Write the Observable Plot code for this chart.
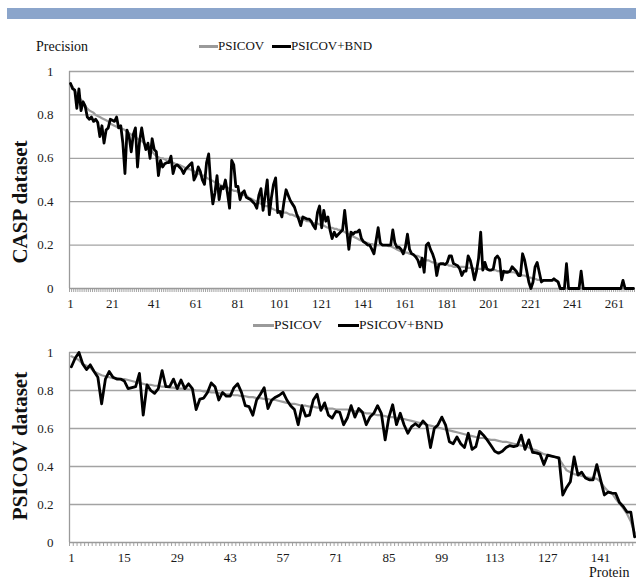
<!DOCTYPE html>
<html>
<head>
<meta charset="utf-8">
<script src="https://cdn.jsdelivr.net/npm/d3@7"></script>
<script src="https://cdn.jsdelivr.net/npm/@observablehq/plot@0.6"></script>
<style>
  body { margin: 0; background: #fff; }
  #root { position: relative; width: 636px; height: 580px; overflow: hidden; background: #fff; font-family: "Liberation Serif", "Times New Roman", serif; color: #111; }
  .abs { position: absolute; white-space: nowrap; }
  .lg { font-size: 13px; line-height: 16px; }
  .sw { position: absolute; }
  .ytitle { position: absolute; font-weight: bold; font-size: 21px; white-space: nowrap; transform: translate(-50%, -50%) rotate(-90deg); }
</style>
</head>
<body>
<div id="root">
  <div class="abs" style="left:7px;top:8px;width:629px;height:11px;background:#8ba5cb;"></div>
  <div class="abs" style="left:36px;top:38px;font-size:14px;line-height:18px;">Precision</div>
  <div class="sw" style="left:199px;top:45px;width:19px;height:2.5px;background:#9a9a9a;"></div>
  <div class="abs lg" style="left:218px;top:38px;">PSICOV</div>
  <div class="sw" style="left:272px;top:45px;width:19px;height:3px;background:#000;"></div>
  <div class="abs lg" style="left:291px;top:38px;">PSICOV+BND</div>
  <div id="p1" class="abs" style="left:0;top:60px;"></div>
  <div class="sw" style="left:253px;top:324px;width:21px;height:2.5px;background:#9a9a9a;"></div>
  <div class="abs lg" style="left:274px;top:317px;font-size:13.5px;">PSICOV</div>
  <div class="sw" style="left:338px;top:324px;width:21px;height:3px;background:#000;"></div>
  <div class="abs lg" style="left:359px;top:317px;font-size:13.5px;">PSICOV+BND</div>
  <div id="p2" class="abs" style="left:0;top:340px;"></div>
  <div class="ytitle" style="left:20px;top:202px;">CASP dataset</div>
  <div class="ytitle" style="left:20px;top:446px;">PSICOV dataset</div>
  <div class="abs" style="left:589px;top:565px;font-size:14px;line-height:15px;">Protein</div>
</div>
<script>
// ---- Data ----
const yTicks = [0, 0.2, 0.4, 0.6, 0.8, 1];
const caspXTicks = [1, 21, 41, 61, 81, 101, 121, 141, 161, 181, 201, 221, 241, 261];
const psicovXTicks = [1, 15, 29, 43, 57, 71, 85, 99, 113, 127, 141];

// CASP dataset (270 proteins)
const caspPsicov = [
0.94,0.93,0.91,0.90,0.88,0.87,0.86,0.84,0.83,0.82,
0.815,0.81,0.80,0.795,0.79,0.785,0.78,0.775,0.77,0.76,
0.755,0.75,0.745,0.74,0.74,0.735,0.73,0.72,0.715,0.71,
0.705,0.70,0.69,0.685,0.68,0.67,0.66,0.65,0.64,0.63,
0.62,0.61,0.605,0.60,0.60,0.595,0.59,0.585,0.58,0.58,
0.575,0.57,0.57,0.565,0.56,0.555,0.55,0.55,0.545,0.54,
0.535,0.53,0.525,0.52,0.52,0.51,0.505,0.50,0.495,0.49,
0.485,0.48,0.475,0.47,0.47,0.465,0.46,0.455,0.45,0.45,
0.445,0.44,0.435,0.43,0.43,0.42,0.415,0.41,0.405,0.40,
0.395,0.39,0.385,0.38,0.38,0.375,0.37,0.365,0.36,0.36,
0.355,0.355,0.35,0.35,0.345,0.34,0.34,0.335,0.33,0.33,
0.325,0.32,0.315,0.31,0.31,0.305,0.30,0.30,0.30,0.295,
0.29,0.29,0.285,0.28,0.28,0.28,0.275,0.275,0.27,0.27,
0.265,0.26,0.255,0.25,0.245,0.24,0.235,0.23,0.225,0.22,
0.215,0.21,0.21,0.205,0.205,0.20,0.20,0.20,0.20,0.20,
0.20,0.20,0.195,0.195,0.19,0.185,0.18,0.175,0.17,0.17,
0.165,0.165,0.16,0.16,0.155,0.15,0.15,0.145,0.14,0.135,
0.13,0.13,0.125,0.12,0.12,0.115,0.115,0.11,0.11,0.11,
0.11,0.105,0.105,0.10,0.10,0.10,0.10,0.10,0.10,0.095,
0.095,0.095,0.095,0.09,0.09,0.09,0.09,0.09,0.09,0.09,
0.085,0.085,0.085,0.085,0.08,0.08,0.08,0.08,0.08,0.08,
0.075,0.075,0.075,0.07,0.07,0.065,0.06,0.06,0.055,0.05,
0.05,0.045,0.045,0.04,0.04,0.04,0.037,0.037,0.037,0.037,
0.037,0.037,0.035,0.03,0,0,0,0,0,0,
0,0,0,0,0,0,0,0,0,0,
0,0,0,0,0,0,0,0,0,0,
0,0,0,0,0,0,0,0,0,0
];
const caspBnd = [
0.945,0.92,0.915,0.83,0.92,0.82,0.86,0.84,0.79,0.78,
0.79,0.77,0.78,0.765,0.70,0.75,0.67,0.73,0.74,0.78,
0.775,0.77,0.79,0.74,0.75,0.67,0.53,0.73,0.70,0.63,
0.71,0.74,0.56,0.68,0.74,0.68,0.64,0.67,0.60,0.69,
0.64,0.63,0.52,0.59,0.56,0.575,0.58,0.58,0.61,0.53,
0.565,0.57,0.56,0.55,0.53,0.55,0.56,0.57,0.58,0.50,
0.52,0.56,0.54,0.50,0.48,0.58,0.62,0.48,0.39,0.44,
0.52,0.41,0.47,0.46,0.50,0.44,0.37,0.59,0.57,0.47,
0.47,0.41,0.44,0.45,0.42,0.415,0.41,0.40,0.39,0.37,
0.43,0.46,0.36,0.43,0.50,0.34,0.42,0.48,0.51,0.35,
0.355,0.33,0.40,0.455,0.43,0.405,0.39,0.375,0.345,0.32,
0.29,0.33,0.325,0.32,0.32,0.31,0.29,0.275,0.35,0.38,
0.28,0.36,0.31,0.33,0.27,0.23,0.26,0.24,0.25,0.26,
0.27,0.36,0.27,0.18,0.26,0.25,0.26,0.26,0.27,0.23,
0.215,0.21,0.20,0.20,0.18,0.16,0.22,0.28,0.21,0.20,
0.20,0.20,0.20,0.20,0.27,0.21,0.19,0.19,0.18,0.16,
0.19,0.25,0.18,0.16,0.155,0.145,0.13,0.10,0.14,0.075,
0.20,0.21,0.18,0.16,0.13,0.06,0.11,0.115,0.115,0.11,
0.12,0.15,0.15,0.115,0.11,0.105,0.09,0.06,0.08,0.08,
0.15,0.13,0.09,0.04,0.08,0.14,0.26,0.085,0.12,0.09,
0.085,0.085,0.09,0.14,0.15,0.135,0.04,0.08,0.075,0.075,
0.08,0.10,0.09,0.08,0.06,0.06,0.16,0.13,0.08,0.03,
0,0.03,0.10,0.12,0.075,0.03,0.037,0.037,0.037,0.037,
0.037,0.045,0.037,0.03,0,0,0,0.114,0,0,
0,0,0,0,0.08,0,0,0,0,0,
0,0,0,0,0,0,0,0,0,0,
0,0,0,0,0.037,0,0,0,0,0
];

// PSICOV dataset (150 proteins)
const psicovPsicov = [
0.98,0.97,0.96,0.94,0.93,0.92,0.90,0.89,0.88,0.875,
0.87,0.865,0.865,0.86,0.86,0.855,0.85,0.845,0.84,0.835,
0.83,0.83,0.825,0.825,0.82,0.82,0.815,0.815,0.81,0.81,
0.81,0.805,0.805,0.80,0.80,0.795,0.795,0.79,0.79,0.785,
0.785,0.78,0.78,0.775,0.775,0.77,0.77,0.765,0.765,0.76,
0.76,0.755,0.755,0.75,0.75,0.745,0.74,0.735,0.73,0.73,
0.725,0.72,0.72,0.715,0.715,0.71,0.71,0.705,0.705,0.705,
0.70,0.70,0.70,0.70,0.695,0.69,0.69,0.685,0.68,0.68,
0.675,0.67,0.67,0.665,0.66,0.66,0.655,0.65,0.65,0.645,
0.64,0.635,0.63,0.625,0.62,0.615,0.61,0.605,0.60,0.595,
0.59,0.585,0.58,0.575,0.57,0.565,0.56,0.555,0.55,0.55,
0.545,0.54,0.54,0.535,0.53,0.53,0.525,0.52,0.515,0.51,
0.505,0.50,0.49,0.485,0.475,0.465,0.46,0.455,0.45,0.44,
0.41,0.38,0.37,0.36,0.355,0.35,0.345,0.34,0.34,0.335,
0.32,0.29,0.27,0.26,0.23,0.205,0.18,0.15,0.11,0.05
];
const psicovBnd = [
0.925,0.97,1.0,0.94,0.91,0.935,0.90,0.87,0.73,0.86,
0.90,0.87,0.86,0.86,0.85,0.81,0.815,0.82,0.89,0.67,
0.83,0.80,0.785,0.81,0.905,0.82,0.82,0.86,0.81,0.855,
0.81,0.835,0.81,0.70,0.755,0.76,0.79,0.84,0.82,0.75,
0.79,0.77,0.77,0.815,0.835,0.79,0.72,0.715,0.67,0.75,
0.78,0.815,0.705,0.75,0.765,0.775,0.79,0.75,0.72,0.70,
0.62,0.72,0.665,0.67,0.75,0.78,0.695,0.735,0.67,0.655,
0.69,0.685,0.62,0.655,0.72,0.66,0.705,0.685,0.62,0.66,
0.68,0.72,0.68,0.54,0.66,0.725,0.62,0.68,0.62,0.575,
0.61,0.625,0.61,0.64,0.618,0.50,0.60,0.62,0.66,0.618,
0.53,0.52,0.555,0.52,0.50,0.575,0.49,0.505,0.585,0.565,
0.54,0.51,0.48,0.47,0.48,0.50,0.51,0.505,0.51,0.565,
0.49,0.54,0.475,0.472,0.465,0.41,0.46,0.455,0.45,0.445,
0.25,0.29,0.32,0.45,0.355,0.37,0.34,0.33,0.33,0.41,
0.33,0.25,0.265,0.26,0.258,0.21,0.19,0.16,0.16,0.03
];

// ---- Drawing ----
function panel(psi, bnd, xTicks, opts) {
  const n = bnd.length;
  const boundaries = d3.range(0, n + 1).map(k => k + 0.5);
  return Plot.plot({
    width: 636,
    height: opts.height,
    marginLeft: 69,
    marginRight: opts.marginRight,
    marginTop: opts.marginTop,
    marginBottom: opts.marginBottom,
    style: { fontFamily: "Liberation Serif, Times New Roman, serif", fontSize: "13px", color: "#1a1a1a", background: "transparent", overflow: "visible" },
    x: { domain: [0.5, n + 0.5], axis: null },
    y: { domain: [0, 1], axis: null },
    marks: [
      Plot.ruleY(yTicks.filter(d => d > 0), { stroke: "#a3a3a3", strokeWidth: 1.3 }),
      Plot.ruleY([0], { stroke: "#9a9a9a", strokeWidth: 1.3 }),
      Plot.ruleX([0.5], { stroke: "#9a9a9a", strokeWidth: 1.3 }),
      Plot.axisX(boundaries, { tickSize: 4, tickFormat: () => "", stroke: "#9a9a9a", strokeWidth: 0.9 }),
      Plot.axisX(xTicks, { tickSize: 0, tickPadding: 10, fontSize: 13, fill: "#1a1a1a" }),
      Plot.axisY(yTicks, { tickSize: 0, tickPadding: 16, tickFormat: d => String(d), fontSize: 13, fill: "#1a1a1a" }),
      Plot.lineY(psi, { x: (d, i) => i + 1, y: d => d, stroke: "#9c9c9c", strokeWidth: 2.2 }),
      Plot.lineY(bnd, { x: (d, i) => i + 1, y: d => d, stroke: "#000", strokeWidth: 2.8, strokeLinejoin: "round" })
    ]
  });
}

document.getElementById("p1").appendChild(
  panel(caspPsicov, caspBnd, caspXTicks, { height: 250, marginTop: 11, marginBottom: 22, marginRight: 2 })
);
document.getElementById("p2").appendChild(
  panel(psicovPsicov, psicovBnd, psicovXTicks, { height: 227, marginTop: 12, marginBottom: 25, marginRight: 0 })
);
</script>
</body>
</html>
